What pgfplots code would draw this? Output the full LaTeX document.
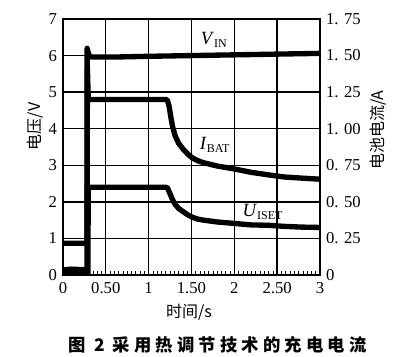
\documentclass[border=0pt]{standalone}
\usepackage{pgfplots}
\pgfplotsset{compat=1.18}
\usepackage{fontspec}
\setmainfont{Liberation Serif}
\newfontfamily\cjk{Noto Sans CJK SC}
\begin{document}
\begin{tikzpicture}
\useasboundingbox (-47.25pt,-61.5pt) rectangle (252.75pt,206.25pt);
\begin{axis}[
  at={(0,0)}, anchor=south west, scale only axis,
  width=192.75pt, height=192pt,
  xmin=0, xmax=3, ymin=0, ymax=7,
  xtick={0,0.5,1,1.5,2,2.5,3},
  xticklabels={0,0.50,1,1.50,2,2.50,3},
  ytick={0,1,...,7},
  minor x tick num=9,
  ytick pos=left, xtick pos=bottom,
  tick align=inside,
  major tick length=0pt,
  minor tick length=3pt,
  minor tick style={black, line width=0.5pt},
  grid=major,
  major grid style={black, line width=1pt},
  axis line style={black, line width=1.2pt},
  /pgf/number format/assume math mode=true,
  tick label style={font=\fontsize{12.5}{12.5}\selectfont},
  xticklabel style={yshift=-2pt},
  yticklabel style={xshift=-1pt},
  xlabel={\cjk 时间/s},
  xlabel style={at={(rel axis cs:0.49,-0.1445)}, anchor=center, font=\fontsize{12}{13}\selectfont},
  ylabel={\cjk 电压/V},
  ylabel style={at={(rel axis cs:-0.109,0.58)}, anchor=center, font=\fontsize{12}{13}\selectfont},
  clip=true,
]
% V_IN
\addplot[black, line width=4pt, line join=round] coordinates {
 (0,0.87) (0.28,0.87) (0.282,6.2) (0.30,6.02) (0.33,5.96) (0.6,5.96) (1.0,5.98)
 (1.5,6.0) (2.0,6.02) (2.5,6.04) (3.0,6.06)};
% I_BAT
\addplot[black, line width=4pt, line join=round] coordinates {
 (0,0.14) (0.1,0.16) (0.2,0.15) (0.28,0.14) (0.285,5.65) (0.295,4.8) (0.6,4.8) (1.0,4.8)
 (1.20,4.8) (1.22,4.77) (1.24,4.6) (1.26,4.3) (1.28,4.05) (1.31,3.8) (1.35,3.6)
 (1.41,3.42) (1.46,3.3) (1.51,3.2) (1.57,3.13) (1.64,3.07)
 (1.8,2.98) (2.0,2.9) (2.19,2.81) (2.39,2.74) (2.58,2.68) (2.78,2.65) (3.0,2.62)};
% U_ISET
\addplot[black, line width=4pt, line join=round] coordinates {
 (0,0.03) (0.29,0.03) (0.295,2.4) (1.2,2.4) (1.22,2.38) (1.25,2.22) (1.28,2.05)
 (1.31,1.93) (1.35,1.82) (1.41,1.72) (1.46,1.64) (1.51,1.58) (1.57,1.53) (1.64,1.5)
 (1.8,1.45) (2.0,1.41) (2.19,1.37) (2.39,1.36)
 (2.58,1.33) (2.78,1.31) (3.0,1.3)};
\node at (axis cs:1.76,6.43) {\fontsize{14}{14}\selectfont\textit{V}\raisebox{-0.35ex}{\fontsize{9}{9}\selectfont IN}};
\node at (axis cs:1.77,3.55) {\fontsize{14}{14}\selectfont\textit{I}\raisebox{-0.35ex}{\fontsize{9}{9}\selectfont BAT}};
\node at (axis cs:2.33,1.72) {\fontsize{14}{14}\selectfont\textit{U}\raisebox{-0.35ex}{\fontsize{9}{9}\selectfont ISET}};
\end{axis}
\begin{axis}[
  at={(0,0)}, anchor=south west, scale only axis,
  width=192.75pt, height=192pt,
  xmin=0, xmax=3, ymin=0, ymax=1.75,
  axis x line=none,
  axis y line*=right,
  ytick={0,0.25,0.5,0.75,1,1.25,1.5,1.75},
  yticklabels={0,0. 25,0. 50,0. 75,1. 00,1. 25,1. 50,1. 75},
  major tick length=0pt,
  axis line style={black, line width=1.2pt},
  tick label style={font=\fontsize{12.5}{12.5}\selectfont},
  yticklabel style={xshift=1pt},
  ylabel={\cjk 电池电流/A},
  ylabel style={at={(rel axis cs:1.225,0.566)}, anchor=center, rotate=0, font=\fontsize{12}{13}\selectfont},
]
\end{axis}
\node at (116pt,-52.5pt) {\fontsize{13}{14}\selectfont\cjk\bfseries\addfontfeatures{LetterSpace=24}图 2 采用热调节技术的充电电流};
\end{tikzpicture}
\end{document}
